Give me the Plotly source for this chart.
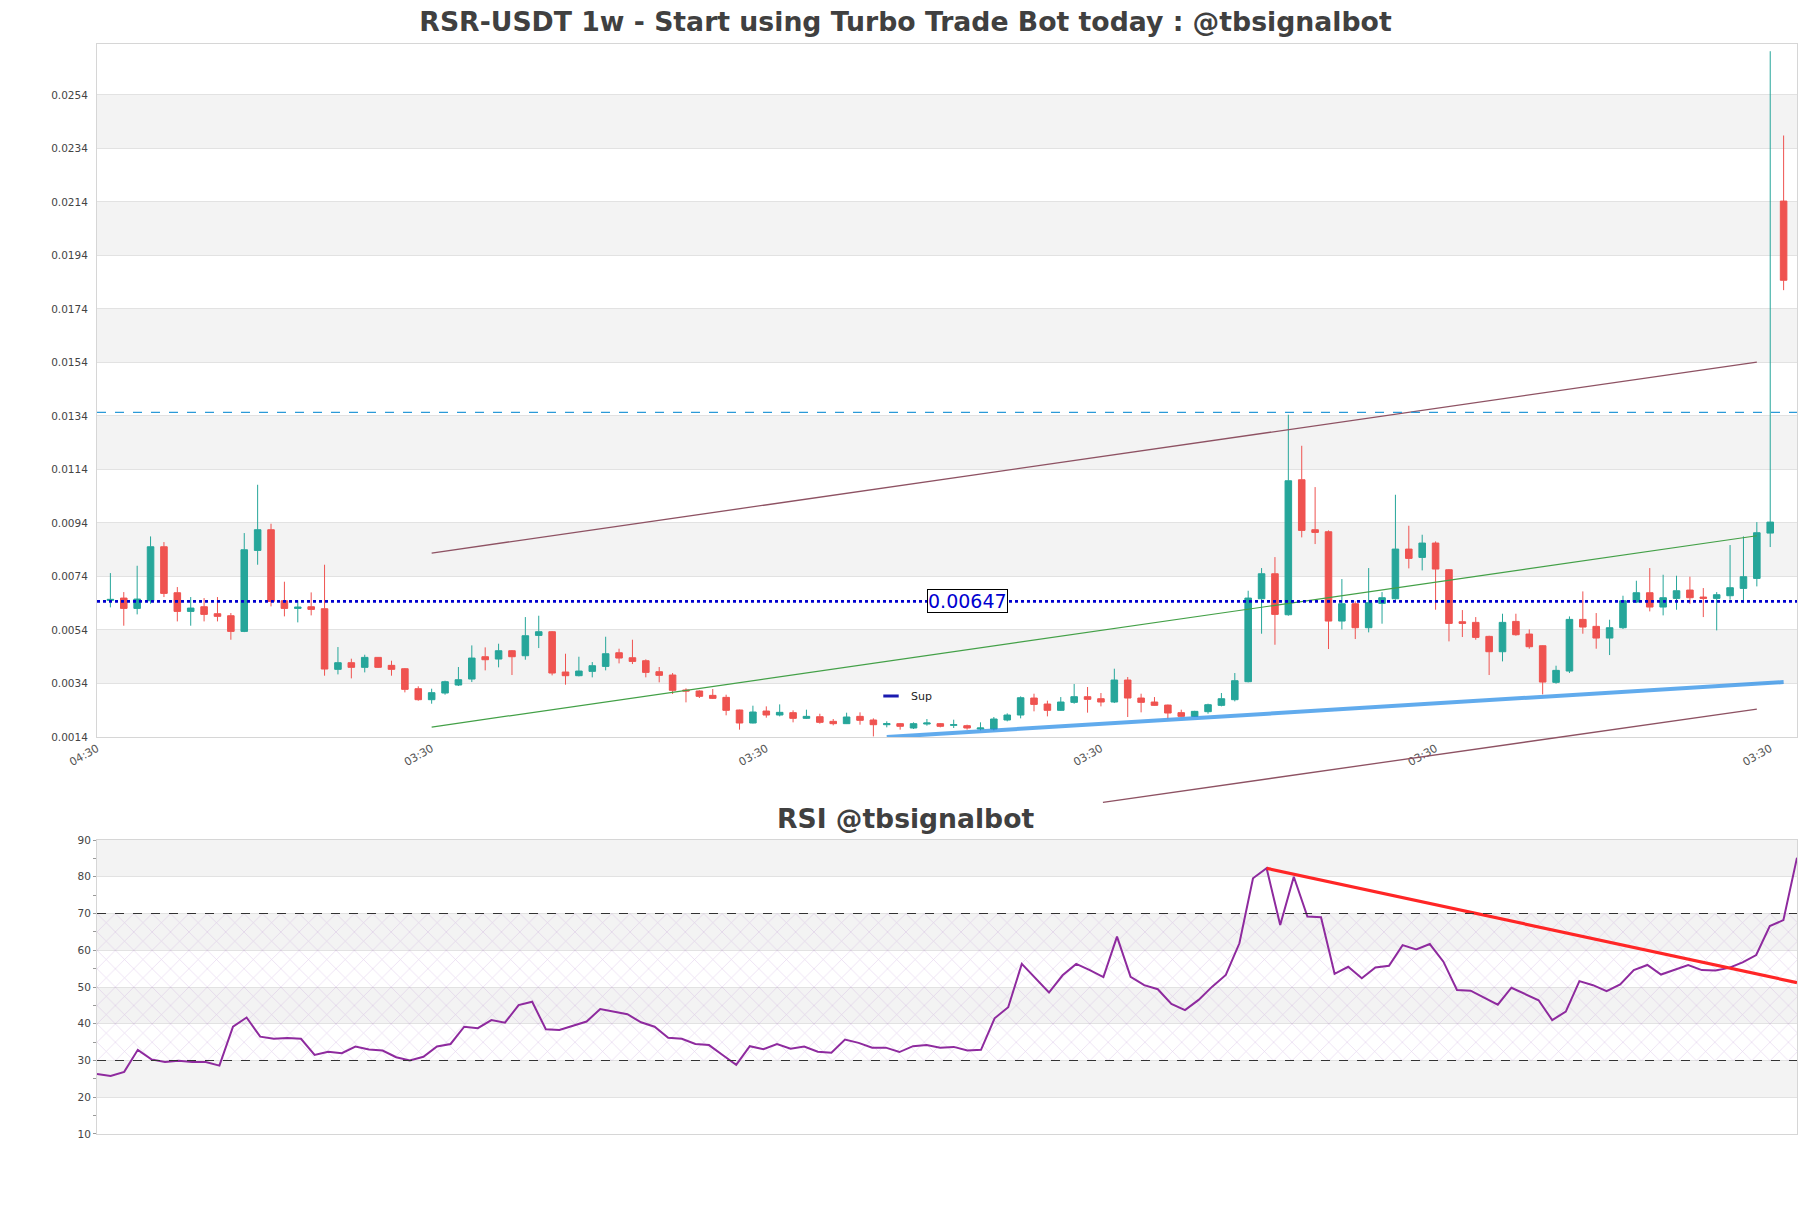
import plotly.graph_objects as go

# ---------------- layout constants ----------------
W, H = 1811, 1208
ML, MR, MT, MB = 97, 14, 44, 74
MAIN_DOMAIN = [0.3642, 1.0]
RSI_DOMAIN = [0.0, 0.2697]

title_text = "RSR-USDT 1w - Start using Turbo Trade Bot today : @tbsignalbot"
rsi_title_text = "RSI @tbsignalbot"

# ---------------- data ----------------
candle_x = list(range(126))

opens = [0.006506, 0.006593, 0.006207, 0.006494, 0.008511, 0.006793, 0.006095, 0.006269, 0.006008, 0.005933,
         0.005348, 0.008374, 0.009147, 0.006494, 0.006207, 0.006269, 0.006195, 0.003929, 0.004178, 0.004004,
         0.004376, 0.004078, 0.003953, 0.003206, 0.002795, 0.003044, 0.003343, 0.003567, 0.004401, 0.004314,
         0.004625, 0.004438, 0.005198, 0.005335, 0.003829, 0.003692, 0.003854, 0.004040, 0.004550, 0.004363,
         0.004252, 0.003841, 0.003717, 0.003157, 0.003120, 0.002957, 0.002882, 0.002410, 0.001924, 0.002371,
         0.002222, 0.002310, 0.002098, 0.002160, 0.001986, 0.001899, 0.002172, 0.002036, 0.001861, 0.001899,
         0.001737, 0.001886, 0.001899, 0.001837, 0.001824, 0.001700, 0.001700, 0.002036, 0.002222, 0.002857,
         0.002633, 0.002397, 0.002695, 0.002907, 0.002832, 0.002708, 0.003530, 0.002857, 0.002708, 0.002595,
         0.002310, 0.002172, 0.002347, 0.002583, 0.002795, 0.003468, 0.006568, 0.007502, 0.005970, 0.011015,
         0.009147, 0.009072, 0.005734, 0.006382, 0.005485, 0.006394, 0.006568, 0.008424, 0.008113, 0.008649,
         0.007652, 0.005709, 0.005684, 0.005161, 0.004588, 0.005721, 0.005248, 0.004812, 0.003443, 0.003866,
         0.005796, 0.005535, 0.005099, 0.005485, 0.006444, 0.006793, 0.006257, 0.006581, 0.006892, 0.006631,
         0.006581, 0.006681, 0.006955, 0.007328, 0.009022, 0.021430]

highs = [0.007527, 0.006817, 0.007801, 0.008897, 0.008685, 0.007005, 0.006631, 0.006593, 0.006631, 0.006033,
         0.009022, 0.010828, 0.009371, 0.007204, 0.006506, 0.006805, 0.007839, 0.004763, 0.004327, 0.004476,
         0.004390, 0.004252, 0.003979, 0.003294, 0.003206, 0.003505, 0.004016, 0.004824, 0.004750, 0.004887,
         0.004650, 0.005883, 0.005933, 0.005360, 0.004513, 0.004401, 0.004202, 0.005148, 0.004700, 0.005036,
         0.004302, 0.004016, 0.003791, 0.003219, 0.003145, 0.003194, 0.002982, 0.002422, 0.002571, 0.002546,
         0.002620, 0.002397, 0.002422, 0.002271, 0.002073, 0.002309, 0.002322, 0.002098, 0.001986, 0.001924,
         0.001949, 0.002073, 0.001924, 0.002048, 0.001861, 0.001949, 0.002148, 0.002285, 0.002919, 0.003019,
         0.002758, 0.002894, 0.003381, 0.003269, 0.003044, 0.003953, 0.003642, 0.003019, 0.002894, 0.002610,
         0.002422, 0.002380, 0.002645, 0.003044, 0.003791, 0.006867, 0.007714, 0.008125, 0.013444, 0.012285,
         0.010741, 0.009122, 0.007304, 0.006469, 0.007714, 0.006817, 0.010454, 0.009296, 0.008960, 0.008711,
         0.007677, 0.006145, 0.005883, 0.005186, 0.006008, 0.006008, 0.005423, 0.004824, 0.004065, 0.005908,
         0.006842, 0.006033, 0.005784, 0.006681, 0.007241, 0.007714, 0.007465, 0.007428, 0.007391, 0.006967,
         0.006817, 0.008574, 0.008897, 0.009433, 0.027030, 0.023880]

lows = [0.006245, 0.005560, 0.005983, 0.006382, 0.006631, 0.005721, 0.005560, 0.005721, 0.005721, 0.005036,
        0.005320, 0.007839, 0.006282, 0.005909, 0.005684, 0.005946, 0.003692, 0.003741, 0.003592, 0.003816,
        0.003979, 0.003692, 0.003069, 0.002758, 0.002645, 0.002982, 0.003306, 0.003455, 0.003891, 0.004004,
        0.003717, 0.004289, 0.004725, 0.003704, 0.003356, 0.003667, 0.003630, 0.003891, 0.004152, 0.004127,
        0.003630, 0.003443, 0.003007, 0.002695, 0.002858, 0.002820, 0.002211, 0.001675, 0.001910, 0.002122,
        0.002172, 0.001949, 0.002073, 0.001899, 0.001837, 0.001886, 0.001861, 0.001424, 0.001762, 0.001675,
        0.001700, 0.001824, 0.001762, 0.001737, 0.001675, 0.001650, 0.001650, 0.001986, 0.002098, 0.002360,
        0.002172, 0.002380, 0.002645, 0.002310, 0.002546, 0.002670, 0.002148, 0.002322, 0.002571, 0.002098,
        0.002160, 0.002150, 0.002272, 0.002546, 0.002732, 0.003443, 0.005261, 0.004849, 0.005933, 0.008861,
        0.008612, 0.004688, 0.005422, 0.005062, 0.005311, 0.005635, 0.006530, 0.007702, 0.007627, 0.006157,
        0.004974, 0.005137, 0.005036, 0.003717, 0.004227, 0.005186, 0.004700, 0.002994, 0.003393, 0.003791,
        0.005261, 0.004700, 0.004463, 0.005436, 0.006407, 0.006095, 0.005946, 0.006157, 0.006382, 0.005883,
        0.005385, 0.006531, 0.006407, 0.007029, 0.008500, 0.018100]

closes = [0.006543, 0.006207, 0.006556, 0.008511, 0.006768, 0.006095, 0.006220, 0.005983, 0.005909, 0.005348,
          0.008399, 0.009147, 0.006469, 0.006207, 0.006257, 0.006170, 0.003941, 0.004178, 0.004004, 0.004376,
          0.004004, 0.003929, 0.003181, 0.002795, 0.003057, 0.003468, 0.003542, 0.004351, 0.004289, 0.004625,
          0.004401, 0.005186, 0.005335, 0.003791, 0.003692, 0.003866, 0.004065, 0.004513, 0.004351, 0.004226,
          0.003816, 0.003704, 0.003145, 0.003120, 0.002920, 0.002845, 0.002397, 0.001924, 0.002335, 0.002222,
          0.002322, 0.002098, 0.002172, 0.001949, 0.001899, 0.002148, 0.002023, 0.001861, 0.001899, 0.001800,
          0.001899, 0.001924, 0.001800, 0.001861, 0.001737, 0.001737, 0.002073, 0.002222, 0.002869, 0.002620,
          0.002397, 0.002708, 0.002907, 0.002808, 0.002708, 0.003530, 0.002857, 0.002695, 0.002583, 0.002297,
          0.002172, 0.002359, 0.002608, 0.002832, 0.003505, 0.006593, 0.007502, 0.005983, 0.010977, 0.009122,
          0.009047, 0.005734, 0.006382, 0.005485, 0.006419, 0.006606, 0.008424, 0.008076, 0.008649, 0.007677,
          0.005647, 0.005647, 0.005124, 0.004588, 0.005684, 0.005223, 0.004775, 0.003455, 0.003891, 0.005796,
          0.005510, 0.005099, 0.005485, 0.006494, 0.006793, 0.006257, 0.006606, 0.006867, 0.006606, 0.006581,
          0.006718, 0.006980, 0.007391, 0.009035, 0.009433, 0.018470]

rsi_x = list(range(126))
rsi_vals = [26.3, 25.8, 26.9, 32.9, 30.3, 29.6, 29.9, 29.6, 29.6, 28.6,
            39.2, 41.7, 36.5, 35.9, 36.1, 35.9, 31.5, 32.4, 32.0, 33.8,
            33.0, 32.7, 30.9, 30.0, 31.0, 33.8, 34.5, 39.2, 38.8, 41.0,
            40.3, 45.1, 46.0, 38.5, 38.3, 39.4, 40.6, 44.0, 43.3, 42.6,
            40.4, 39.2, 36.2, 35.9, 34.5, 34.2, 31.5, 28.8, 33.9, 33.1,
            34.5, 33.2, 33.8, 32.4, 32.1, 35.7, 34.8, 33.5, 33.5, 32.3,
            33.9, 34.2, 33.5, 33.7, 32.7, 32.9, 41.5, 44.5, 56.3, 52.4,
            48.5, 53.2, 56.3, 54.6, 52.7, 63.7, 52.8, 50.5, 49.4, 45.4,
            43.7, 46.5, 50.1, 53.3, 61.9, 79.6, 82.3, 66.9, 80.0, 69.2,
            69.0, 53.6, 55.5, 52.4, 55.3, 55.8, 61.4, 60.2, 61.7, 56.9,
            49.2, 49.0, 47.1, 45.2, 49.8, 48.0, 46.4, 41.0, 43.3, 51.6,
            50.5, 48.9, 50.7, 54.6, 56.0, 53.4, 54.7, 56.0, 54.6, 54.5,
            55.2, 56.7, 58.7, 66.6, 68.2, 85.2]

x_tick_vals = [-1, 24, 49, 74, 99, 124]
x_tick_text = ["04:30", "03:30", "03:30", "03:30", "03:30", "03:30"]
x_range = [-1.0005, 126]

price_tick_vals = [0.0014, 0.0034, 0.0054, 0.0074, 0.0094, 0.0114, 0.0134,
                   0.0154, 0.0174, 0.0194, 0.0214, 0.0234, 0.0254]
price_tick_text = ["0.0014", "0.0034", "0.0054", "0.0074", "0.0094", "0.0114", "0.0134",
                   "0.0154", "0.0174", "0.0194", "0.0214", "0.0234", "0.0254"]
price_range = [0.0014, 0.0273]

rsi_tick_vals = [10, 20, 30, 40, 50, 60, 70, 80, 90]
rsi_range = [10, 90]
rsi_levels = [30, 70]

pivot_level = 0.00647
pivot_label = "0.00647"
pivot_label_x = 64
resist_level = 0.01353

channel_upper_x = [24, 123]
channel_upper_y = [0.008275, 0.01541]
channel_mid_x = [24, 123]
channel_mid_y = [0.001773, 0.008922]
channel_lower_x = [74.15, 123]
channel_lower_y = [-0.001042, 0.002446]
sup_x = [58, 125]
sup_y = [0.0014, 0.003455]
rsi_trend_x = [86, 125]
rsi_trend_y = [82.3, 51.2]

# ---------------- styles ----------------
GREEN = "#26a69a"
RED = "#ef5350"
BAND = "#f3f3f3"
GRID = "#e2e2e2"
FRAME = "#d6d6d6"
TXT = "#444444"
FONT = "DejaVu Sans"


def paper_x(v):
    return (v - x_range[0]) / (x_range[1] - x_range[0])


def paper_y_main(v):
    d0, d1 = MAIN_DOMAIN
    return d0 + (v - price_range[0]) / (price_range[1] - price_range[0]) * (d1 - d0)


fig = go.Figure()

# candles
fig.add_trace(go.Candlestick(
    x=candle_x, open=opens, high=highs, low=lows, close=closes,
    increasing=dict(line=dict(color=GREEN, width=1), fillcolor=GREEN),
    decreasing=dict(line=dict(color=RED, width=1), fillcolor=RED),
    whiskerwidth=0, showlegend=False, xaxis="x", yaxis="y", name="RSR-USDT"))

# channel lines
fig.add_trace(go.Scatter(x=channel_upper_x, y=channel_upper_y, mode="lines",
                         line=dict(color="#8e5263", width=1.3), showlegend=False, hoverinfo="skip"))
fig.add_trace(go.Scatter(x=channel_mid_x, y=channel_mid_y, mode="lines",
                         line=dict(color="#43a047", width=1.2), showlegend=False, hoverinfo="skip"))
# support trendline
fig.add_trace(go.Scatter(x=sup_x, y=sup_y, mode="lines",
                         line=dict(color="rgba(30,136,229,0.7)", width=4), showlegend=False, hoverinfo="skip"))

# legend entry
fig.add_trace(go.Scatter(x=[None], y=[None], mode="markers", name="Sup",
                         marker=dict(symbol="line-ew", size=11, color="#1a1ab0",
                                     line=dict(color="#1a1ab0", width=3)),
                         showlegend=True))

# RSI hatch region
fig.add_trace(go.Scatter(
    x=[rsi_x[0], rsi_x[-1], rsi_x[-1], rsi_x[0], rsi_x[0]],
    y=[rsi_levels[0], rsi_levels[0], rsi_levels[1], rsi_levels[1], rsi_levels[0]],
    fill="toself", mode="lines", line=dict(width=0), fillcolor="rgba(0,0,0,0)",
    fillpattern=dict(shape="x", fgcolor="rgba(170,120,200,0.6)", bgcolor="rgba(0,0,0,0)",
                     size=13, solidity=0.1),
    xaxis="x2", yaxis="y2", showlegend=False, hoverinfo="skip"))

# RSI line
fig.add_trace(go.Scatter(x=rsi_x, y=rsi_vals, mode="lines",
                         line=dict(color="#8e2a9e", width=2),
                         xaxis="x2", yaxis="y2", showlegend=False))
fig.add_trace(go.Scatter(x=rsi_trend_x, y=rsi_trend_y, mode="lines",
                         line=dict(color="#ff2626", width=3.2),
                         xaxis="x2", yaxis="y2", showlegend=False))

shapes = []
# alternating bands main
for a, b in zip(price_tick_vals[1::2], price_tick_vals[2::2]):
    shapes.append(dict(type="rect", xref="x domain", yref="y", x0=0, x1=1, y0=a, y1=b,
                       fillcolor=BAND, line=dict(width=0), layer="below"))
for a, b in zip(rsi_tick_vals[1::2], rsi_tick_vals[2::2]):
    shapes.append(dict(type="rect", xref="x2 domain", yref="y2", x0=0, x1=1, y0=a, y1=b,
                       fillcolor=BAND, line=dict(width=0), layer="below"))
# horizontal levels
shapes.append(dict(type="line", xref="x domain", yref="y", x0=0, x1=1, y0=resist_level, y1=resist_level,
                   line=dict(color="#2b9ad8", width=1.3, dash="dash")))
shapes.append(dict(type="line", xref="x domain", yref="y", x0=0, x1=1, y0=pivot_level, y1=pivot_level,
                   line=dict(color="#0000d0", width=2.6, dash="dot")))
# RSI 30/70
for lv in rsi_levels:
    shapes.append(dict(type="line", xref="x2 domain", yref="y2", x0=0, x1=1, y0=lv, y1=lv,
                       line=dict(color="#333333", width=1.2, dash="dash")))
# lower channel line (extends below the price panel, drawn unclipped)
shapes.append(dict(type="line", xref="paper", yref="paper",
                   x0=paper_x(channel_lower_x[0]), x1=paper_x(channel_lower_x[1]),
                   y0=paper_y_main(channel_lower_y[0]), y1=paper_y_main(channel_lower_y[1]),
                   line=dict(color="#8e5263", width=1.3)))

plot_w = W - ML - MR
annotations = [
    dict(x=pivot_label_x, y=pivot_level, xref="x", yref="y", text=pivot_label, showarrow=False,
         font=dict(family=FONT, size=19, color="#0000d0"), bgcolor="white",
         bordercolor="black", borderwidth=1, borderpad=0),
    dict(x=(W / 2 - ML) / plot_w, y=0.289, xref="paper", yref="paper", text=rsi_title_text,
         showarrow=False, yanchor="middle",
         font=dict(family=FONT, size=26.6, color="#404040", weight="bold")),
]

axis_common = dict(showline=True, linecolor=FRAME, linewidth=1, mirror=True, zeroline=False)

fig.update_layout(
    width=W, height=H,
    margin=dict(l=ML, r=MR, t=MT, b=MB),
    paper_bgcolor="white", plot_bgcolor="white",
    title=dict(text=title_text, x=0.5, xref="container", xanchor="center",
               y=1 - 22 / H, yref="container", yanchor="middle",
               font=dict(family=FONT, size=26.7, color="#404040", weight="bold")),
    font=dict(family=FONT, color=TXT, size=11),
    xaxis=dict(domain=[0, 1], anchor="y", range=x_range, tickmode="array",
               tickvals=x_tick_vals, ticktext=x_tick_text, tickangle=-30,
               tickfont=dict(size=11, color="#555555"), showgrid=False,
               rangeslider=dict(visible=False), **axis_common),
    yaxis=dict(domain=MAIN_DOMAIN, anchor="x", range=price_range, tickmode="array",
               tickvals=price_tick_vals, ticktext=price_tick_text,
               tickfont=dict(size=10.5, color=TXT), showgrid=True, gridcolor=GRID, gridwidth=1,
               ticklabelstandoff=6, **axis_common),
    xaxis2=dict(domain=[0, 1], anchor="y2", range=[rsi_x[0], rsi_x[-1]], showticklabels=False,
                showgrid=False, **axis_common),
    yaxis2=dict(domain=RSI_DOMAIN, anchor="x2", range=rsi_range, tickmode="array",
                tickvals=rsi_tick_vals, tickfont=dict(size=10.5, color=TXT),
                showgrid=True, gridcolor=GRID, ticks="outside", ticklen=3, tickcolor="#999999",
                minor=dict(dtick=5, ticks="outside", ticklen=3, tickcolor="#999999", showgrid=False),
                **axis_common),
    shapes=shapes,
    annotations=annotations,
    showlegend=True,
    legend=dict(x=(871 - ML) / plot_w, y=(H - MB - 696) / (H - MT - MB), xanchor="left", yanchor="middle",
                bgcolor="rgba(0,0,0,0)", font=dict(family=FONT, size=11, color="#222222"),
                itemwidth=30),
)

fig.write_html("out.html")
